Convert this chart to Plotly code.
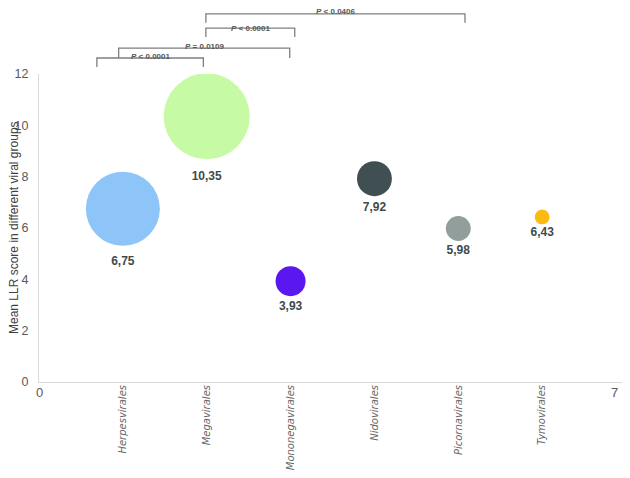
import math
import plotly.graph_objects as go

# data
groups = ['Herpesvirales', 'Megavirales', 'Mononegavirales', 'Nidovirales', 'Picornavirales', 'Tymovirales']
mean_llr = [6.75, 10.35, 3.93, 7.92, 5.98, 6.43]
n_seqs = [548, 740, 90, 122, 62, 22]
colors = ['#8DC5F8', '#C7FAA5', '#5A17F0', '#404F51', '#929E9B', '#FDBA12']
x_edge_ticks = [0, 7]

comparisons = [
    ('Herpesvirales', 'Megavirales', '<i>P</i> < 0.0001'),
    ('Herpesvirales', 'Mononegavirales', '<i>P</i> = 0.0109'),
    ('Megavirales', 'Mononegavirales', '<i>P</i> < 0.0001'),
    ('Megavirales', 'Picornavirales', '<i>P</i> < 0.0406'),
]

# bracket geometry (paper y for bar, drop, label; x offsets in data units)
bracket_style = [
    dict(y=1.052, drop=0.029, ly=1.078, dx0=-0.31, dx1=-0.04),
    dict(y=1.084, drop=0.032, ly=1.110, dx0=-0.05, dx1=-0.01),
    dict(y=1.149, drop=0.029, ly=1.170, dx0=-0.01, dx1=0.05),
    dict(y=1.195, drop=0.029, ly=1.224, dx0=-0.01, dx1=0.08),
]

xpos = list(range(1, len(groups) + 1))
max_d = 86
sizes = [max_d * math.sqrt(v / max(n_seqs)) for v in n_seqs]
labels = [f'{v:.2f}'.replace('.', ',') for v in mean_llr]

fig = go.Figure()

fig.add_trace(go.Scatter(
    x=xpos,
    y=mean_llr,
    mode='markers+text',
    marker=dict(size=sizes, color=colors, opacity=1, line=dict(width=0)),
    text=labels,
    textposition='bottom center',
    textfont=dict(family='Arial', size=12, color='#404A4C', weight='bold'),
    showlegend=False,
    hoverinfo='skip',
))

# invisible trace to host the category axis
fig.add_trace(go.Scatter(x=xpos, y=mean_llr, xaxis='x2', mode='markers',
                         marker=dict(opacity=0), showlegend=False, hoverinfo='skip'))

for (g0, g1, ptxt), st in zip(comparisons, bracket_style):
    x0 = groups.index(g0) + 1 + st['dx0']
    x1 = groups.index(g1) + 1 + st['dx1']
    fig.add_shape(
        type='path',
        path=f"M {x0},{st['y'] - st['drop']} L {x0},{st['y']} L {x1},{st['y']} L {x1},{st['y'] - st['drop']}",
        xref='x', yref='paper',
        line=dict(color='#7F7F7F', width=1.3),
    )
    fig.add_annotation(
        x=(x0 + x1) / 2, y=st['ly'], xref='x', yref='paper',
        text=ptxt, showarrow=False,
        font=dict(family='Arial', size=8, color='#595959', weight='bold'),
    )

# numeric x ticks at the axis ends (last one pulled inside so it is not clipped)
for i, xv in enumerate(x_edge_ticks):
    last = i == len(x_edge_ticks) - 1
    fig.add_annotation(
        x=xv, y=0, xref='x', yref='paper', yanchor='top', yshift=-1,
        xanchor='right' if last else 'center', xshift=-6 if last else 0,
        text=str(xv), showarrow=False,
        font=dict(family='Arial', size=13, color='#595959'),
    )

# y-axis title as rotated annotation
fig.add_annotation(
    x=0, y=0.5, xref='paper', yref='paper', xanchor='center', xshift=-25,
    text='Mean LLR score in different viral groups', textangle=-90,
    showarrow=False, font=dict(family='Arial', size=12, color='#404040'),
)

fig.update_layout(
    width=622, height=462,
    margin=dict(l=31, r=4, t=66, b=88, autoexpand=False),
    plot_bgcolor='white',
    paper_bgcolor='white',
    font=dict(family='Arial', color='#595959'),
    xaxis=dict(
        range=[0, 7], showticklabels=False,
        showgrid=False, zeroline=False, automargin=False,
        showline=True, linecolor='#D9D9D9', linewidth=1,
        ticks='',
    ),
    xaxis2=dict(
        range=[0, 7], overlaying='x', side='bottom', anchor='y',
        tickvals=xpos, ticktext=[f'<i>{g}</i>' for g in groups],
        tickangle=-90, showgrid=False, zeroline=False, showline=False,
        automargin=False, ticklabeloverflow='allow',
        tickfont=dict(family='DejaVu Sans', size=10, color='#666666'),
        ticks='', ticklabelstandoff=0,
    ),
    yaxis=dict(
        range=[0, 12], dtick=2, automargin=False,
        showgrid=False, zeroline=False,
        showline=True, linecolor='#D9D9D9', linewidth=1,
        tickfont=dict(size=12.5, color='#595959'),
        ticks='', ticklabelstandoff=7,
    ),
)

fig.write_html('out.html')
